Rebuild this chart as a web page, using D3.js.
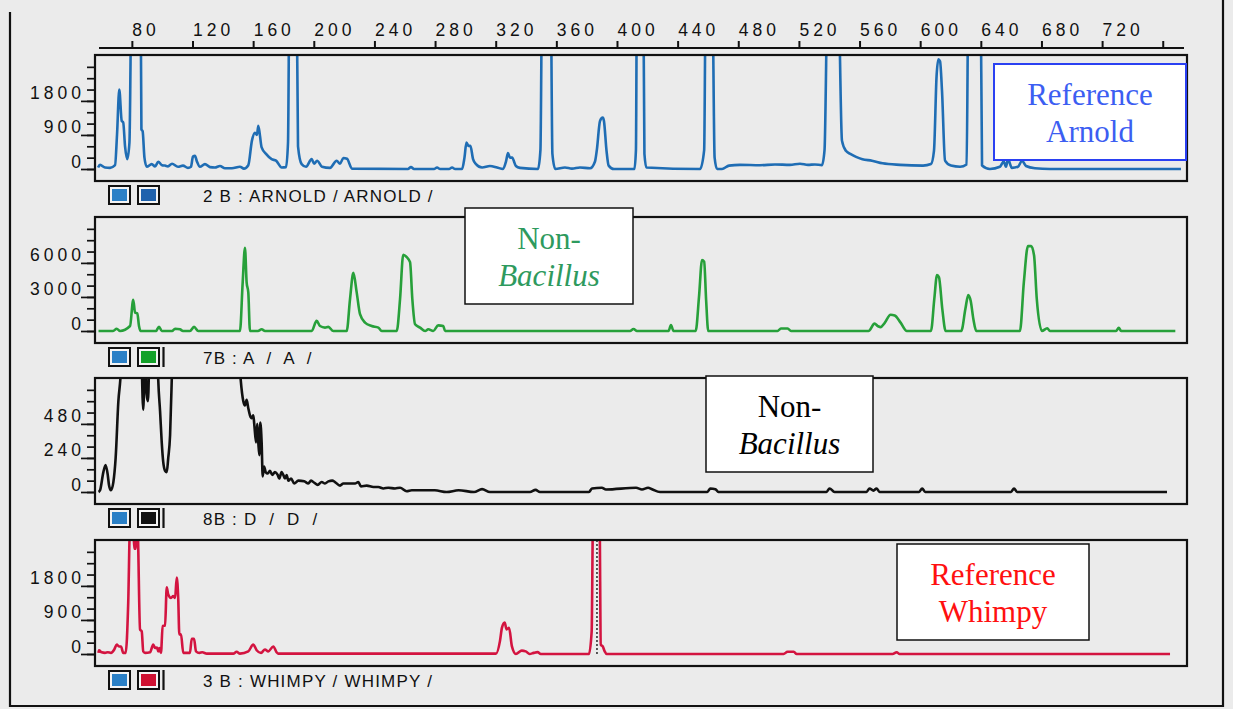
<!DOCTYPE html>
<html>
<head>
<meta charset="utf-8">
<script src="https://cdn.jsdelivr.net/npm/d3@7"></script>
<style>
  html, body { margin: 0; padding: 0; background: #ebebeb; }
  svg { display: block; }
  .mono { font-family: "Liberation Sans", Arial, sans-serif; }
  .serif { font-family: "Liberation Serif", "Times New Roman", serif; }
</style>
</head>
<body>
<div id="chart"></div>
<script>
const width = 1233;
const height = 709;

// fragment size (bp) ticks along the top
const sizeTicks = d3.range(80, 761, 40);

// traces: [fragment size bp, signal]
const arnold = [
  [57.7, 40], [59, 110], [62.3, 40], [65.6, 30], [68.9, 100], [70.2, 900], [71.7, 2100],
  [73.3, 1270], [74.3, 1230], [75.5, 600], [77, 260], [78.4, 700], [79.9, 5000], [85.7, 5000],
  [86.3, 1050], [87.1, 1000], [88.3, 300], [89.8, 60], [93.1, 130], [95.3, 70], [97.4, 190],
  [99.9, 100], [101.9, 90], [103.8, 70], [106.5, 140], [110.4, 60], [113.7, 90], [117, 30],
  [119, 60], [120.3, 330], [121.6, 350], [122.9, 200], [124.9, 60], [128.2, 130], [131.5, 50],
  [134.8, 40], [138.1, 80], [141.4, 20], [146, 20], [151.3, 60], [153.9, 10], [156.8, 100],
  [159.2, 750], [161.2, 960], [162.5, 900], [163.4, 1140], [165.6, 570], [168.5, 400],
  [172.2, 260], [175.1, 220], [178.8, 40], [181.7, 50], [183, 700], [184, 5000], [188.6, 5000],
  [189.6, 600], [192, 130], [194.9, 60], [198.6, 260], [200.2, 140], [202.2, 220], [205.4, 60],
  [210.7, 30], [215.1, 220], [217.3, 140], [219.5, 290], [221.9, 270], [225.2, 10],
  [262.1, 0], [264.1, 50], [266.1, 0], [279.3, 0], [281.3, 40], [283.3, 0], [289.2, 0],
  [291.2, 40], [293.2, 0], [297.8, 0], [299.4, 300], [300.7, 700], [302.1, 610], [303.3, 610],
  [305, 270], [307, 130], [311, 40], [316.2, 80], [320.9, 40], [324.8, 0], [326.8, 200],
  [328.1, 420], [329.4, 300], [330.8, 300], [333.3, 80], [336, 30], [347.9, 0], [349.5, 500],
  [350.7, 5000], [356.2, 5000], [357.4, 400], [359.3, 0], [365.7, 40], [370.3, 10], [375.6, 40],
  [382.2, 20], [385.5, 200], [386.7, 500], [388.8, 1270], [390.6, 1360], [391.4, 1270],
  [393.1, 480], [394.5, 90], [398, 0], [411.5, 0], [412.5, 500], [413.2, 5000], [417.3, 5000],
  [418.1, 400], [419.4, 40], [454.8, 0], [457.5, 500], [458.6, 5000], [462.8, 5000],
  [464.4, 300], [466, 0], [469.3, 0], [473.9, 90], [481.1, 110], [494.3, 100], [504.2, 120],
  [514.1, 110], [520.7, 140], [526, 110], [530.6, 120], [535.2, 100], [536.9, 500],
  [539.1, 5000], [545.8, 5000], [548.4, 750], [551, 480], [553.9, 400], [557.7, 320],
  [561.9, 260], [568.2, 220], [575.2, 150], [586.7, 110], [601.9, 90], [607.1, 130],
  [609.1, 480], [610.8, 2450], [612, 2900], [613.1, 2850], [614.4, 2060], [616.4, 220],
  [620.3, 90], [626.3, 60], [630.6, 120], [631.9, 5000], [639.8, 5000], [640.8, 90], [646, 0],
  [652.6, 60], [655.1, 200], [656.6, 60], [657.9, 260], [660.5, 30], [664.5, 60], [667.2, 220],
  [669.8, 80], [675.7, 20], [685.6, 0], [772, 0]
];

const sampleA = [
  [58, 0], [67.6, 0], [70, 200], [72.2, 0], [78.8, 440], [80.9, 2750], [82.1, 1620],
  [83.6, 1560], [84.7, 440], [85.8, 0], [95.9, 0], [97.9, 380], [99.7, 0], [106.5, 0],
  [108.5, 200], [111.7, 150], [113.7, 0], [118.3, 0], [121, 360], [123.8, 0], [151.3, 0],
  [153.1, 4290], [154.6, 7330], [155.7, 4290], [156.8, 3400], [157.9, 0], [163.2, 0],
  [165.6, 150], [167.8, 0], [198.6, 0], [201.9, 890], [204.1, 440], [207.4, 300], [209.6, 360],
  [212.9, 0], [221.7, 0], [223.9, 2810], [226.1, 5120], [228.3, 3400], [230.5, 1480],
  [233.8, 740], [238.2, 440], [242.6, 300], [244.8, 0], [254.7, 0], [256.9, 2810], [259, 6720],
  [261.3, 6510], [263.5, 6060], [265, 2810], [266.8, 590], [270.1, 300], [273.4, 0],
  [275.5, 150], [278.8, 0], [282.1, 500], [285.4, 440], [286.6, 0], [408.6, 0], [410.9, 170],
  [413.2, 0], [434, 0], [435.6, 530], [437.3, 0], [451.9, 0], [454.1, 3000], [456.1, 6260],
  [457.5, 6110], [458.8, 2720], [460.2, 0], [505.9, 0], [508.1, 220], [512.6, 220], [514.8, 0],
  [565.9, 0], [569.9, 650], [572.2, 420], [573.9, 340], [576.5, 700], [580.5, 1430],
  [583.2, 1370], [587.2, 720], [591.2, 0], [607.1, 0], [609.3, 2800], [611.1, 4930],
  [612.4, 4730], [614.6, 1920], [616.8, 0], [627.1, 0], [629.8, 1930], [631.7, 3170],
  [633.3, 2660], [635.1, 1040], [637, 0], [665.8, 0], [668.4, 4320], [671.1, 7480],
  [673.2, 7480], [675.1, 6680], [676.9, 2840], [680.3, 0], [683.8, 240], [685.6, 0],
  [729.2, 0], [731, 280], [732.5, 0], [768.3, 0]
];

const sampleD = [
  [58, 0], [59, 12], [61.2, 140], [62.7, 190], [64.1, 120], [64.9, 50], [66.2, 12], [67.8, 70],
  [69.3, 240], [71.1, 640], [72.6, 830], [74.2, 1300], [84.5, 1300], [86, 1100], [87.5, 580],
  [88.7, 1000], [89.7, 690], [90.6, 640], [91.6, 1000], [92.6, 1300], [96.2, 1300],
  [97.4, 790], [98.6, 570], [99.7, 350], [100.7, 210], [101.9, 150], [103, 140], [104, 240],
  [105.2, 400], [106.3, 790], [107.5, 1300], [149, 1300], [151.8, 790], [153.5, 640],
  [154.6, 610], [155.7, 650], [156.8, 590], [157.9, 540], [159, 520], [160.1, 540], [160.8, 470],
  [161.9, 350], [162.7, 480], [163.4, 350], [164.1, 260], [164.7, 490], [165.6, 350],
  [166.3, 110], [167.2, 180], [168.3, 140], [169.6, 130], [171.1, 150], [172.6, 120],
  [174.4, 140], [176.2, 120], [177.2, 95], [178.8, 140], [179.9, 120], [181, 95], [182.1, 120],
  [183.2, 80], [185, 95], [187.1, 60], [189.8, 80], [193.7, 75], [196.4, 60], [198.2, 80],
  [200.3, 65], [202.6, 50], [205.2, 70], [207.4, 60], [209.6, 75], [212.2, 80], [214, 70],
  [217.3, 45], [219.5, 60], [223.9, 60], [227.2, 60], [229.4, 70], [231.1, 40], [234.9, 45],
  [239.3, 35], [242.6, 35], [245.9, 25], [249.2, 30], [253.6, 25], [256.9, 30], [261.3, 5],
  [264.6, 12], [272.3, 12], [279.8, 12], [287.6, 0], [295.5, 12], [305.7, 0], [311, 20],
  [316.2, 0], [342.6, 0], [346.3, 15], [349.2, 0], [381.5, 0], [383.5, 25], [390, 30],
  [392.7, 18], [412.6, 30], [416.5, 18], [420.5, 30], [423.1, 20], [428.4, 0], [459.6, 0],
  [461.6, 25], [464.9, 20], [466.9, 0], [538.2, 0], [540.2, 25], [543.5, 0], [564.6, 0],
  [566.6, 25], [569.2, 10], [571.2, 25], [573.2, 0], [599.3, 0], [601.3, 25], [603.3, 0],
  [659.9, 0], [661.9, 25], [663.9, 0], [762.8, 0]
];

const whimpy = [
  [58, 30], [58.3, 100], [60.1, 45], [62.3, 30], [64.1, 45], [66.2, 30], [68.4, 120], [70, 250],
  [71.5, 200], [72.8, 200], [74.3, 30], [75.9, 30], [77.6, 1360], [78.8, 3400], [80.9, 3400],
  [81.6, 2780], [82.6, 2780], [83.2, 3400], [83.7, 3400], [85.4, 650], [86.5, 600], [87.5, 70],
  [88.7, 30], [92, 45], [94.1, 250], [95.3, 160], [96.6, 170], [97.4, 70], [98.1, 160],
  [99.2, 30], [100.3, 740], [101.9, 750], [103, 1760], [104, 1570], [105.8, 1480], [107.3, 1530],
  [108.5, 1480], [109.6, 2020], [110.6, 1440], [111.3, 520], [112.4, 520], [113.9, 30],
  [115.5, 30], [118.3, 30], [119.5, 400], [121, 400], [122.3, 70], [124.5, 30], [126.5, 45],
  [129.4, 10], [146.9, 10], [149.1, 60], [151.3, 10], [156.8, 70], [160.1, 250], [162.3, 100],
  [165.2, 30], [167.8, 120], [170, 70], [173.3, 200], [175.5, 45], [176.6, 10], [320.2, 10],
  [322.8, 340], [324.1, 690], [325.9, 830], [327.2, 650], [328.8, 690], [330.7, 200],
  [333.3, 0], [337.2, 90], [339.8, 70], [342.4, 0], [345, 30], [347.6, 50], [349.7, 0],
  [381.5, 0], [383.3, 600], [384.2, 3600], [388.5, 3600], [389.3, 250], [390.6, 200],
  [391.9, 70], [393.2, 0], [509.9, 0], [512.5, 60], [516.6, 60], [518.5, 0], [581.8, 0],
  [584.5, 45], [586.4, 0], [764.8, 0]
];

// dotted size marker in the Whimpy lane
const whimpyMarkers = [386.8];

const laneLabels = ["2 B : ARNOLD / ARNOLD /", "7B : A  /  A  /", "8B : D  /  D  /", "3 B : WHIMPY / WHIMPY /"];
const tickSteps = [300, 1000, 80, 300];

const panels = [
  { data: arnold, step: tickSteps[0], top: 55, color: "#1f6db4", swatch: "#1f62ad", bar: false,
    label: laneLabels[0],
    legend: { x: 994, y: 64, w: 192, h: 96, stroke: "#2a40f2", sw: 2, color: "#3c5ef2", lines: [["Reference", false], ["Arnold", false]] } },
  { data: sampleA, step: tickSteps[1], top: 217, color: "#27a03a", swatch: "#14a12a", bar: true,
    label: laneLabels[1],
    legend: { x: 465, y: 208, w: 168, h: 96, stroke: "#111", sw: 1.5, color: "#2e9a5e", lines: [["Non-", false], ["Bacillus", true]] } },
  { data: sampleD, step: tickSteps[2], top: 378, color: "#111", swatch: "#111", bar: true,
    label: laneLabels[2], markers: [],
    legend: { x: 706, y: 376, w: 167, h: 96, stroke: "#111", sw: 1.5, color: "#000", lines: [["Non-", false], ["Bacillus", true]] } },
  { data: whimpy, step: tickSteps[3], top: 540, color: "#d31440", swatch: "#cf1232", bar: true,
    label: laneLabels[3], markers: whimpyMarkers,
    legend: { x: 897, y: 544, w: 192, h: 96, stroke: "#111", sw: 1.5, color: "#ff1010", lines: [["Reference", false], ["Whimpy", false]] } }
];

const boxX0 = 95, boxX1 = 1187, boxH = 126, zeroOffset = 114, stepPx = 11.35;

const svg = d3.select("#chart")
  .append("svg")
  .attr("width", width)
  .attr("height", height);

svg.append("rect").attr("width", width).attr("height", height).attr("fill", "#ebebeb");

const x = d3.scaleLinear().domain([57, 776]).range([97, 1187]);

// top size axis
const topAxis = svg.append("g")
  .attr("transform", "translate(0,48)")
  .call(d3.axisTop(x).tickValues(sizeTicks).tickSize(7).tickFormat(d => d < 760 ? d : ""));
topAxis.select(".domain").remove();
topAxis.selectAll("line").attr("stroke", "#111").attr("stroke-width", 2);
topAxis.selectAll("text")
  .attr("class", "mono")
  .attr("text-anchor", "start")
  .attr("x", 0)
  .attr("y", -12)
  .attr("dy", 0)
  .attr("fill", "#111")
  .style("font-size", "17.5px")
  .style("letter-spacing", "4px");
svg.append("line")
  .attr("x1", 99).attr("x2", 1184).attr("y1", 48).attr("y2", 48)
  .attr("stroke", "#111").attr("stroke-width", 2.2);

const line = d3.line().curve(d3.curveMonotoneX);

panels.forEach((p, i) => {
  const top = p.top;
  const y = d3.scaleLinear()
    .domain([-(boxH - zeroOffset) / stepPx * p.step, zeroOffset / stepPx * p.step])
    .range([top + boxH, top]);

  const g = svg.append("g");

  // minor ticks
  const minor = g.append("g")
    .attr("transform", `translate(${boxX0},0)`)
    .call(d3.axisLeft(y).tickValues(d3.range(0, 10).map(k => k * p.step)).tickSize(8).tickFormat(""));
  minor.select(".domain").remove();
  minor.selectAll("line").attr("stroke", "#111").attr("stroke-width", 1.7);

  // major ticks with labels sitting on them
  const major = g.append("g")
    .attr("transform", `translate(${boxX0},0)`)
    .call(d3.axisLeft(y).tickValues([0, 3 * p.step, 6 * p.step]).tickSize(14).tickFormat(d3.format("d")));
  major.select(".domain").remove();
  major.selectAll("line").attr("stroke", "#111").attr("stroke-width", 1.7);
  major.selectAll("text")
    .attr("class", "mono")
    .attr("x", -14 + 4)
    .attr("dy", "-2px")
    .attr("fill", "#111")
    .style("font-size", "17.5px")
    .style("letter-spacing", "4px");

  const clipId = "clip" + i;
  svg.append("clipPath").attr("id", clipId)
    .append("rect").attr("x", boxX0 + 1).attr("y", top + 1)
    .attr("width", boxX1 - boxX0 - 2).attr("height", boxH - 2);

  const plot = g.append("g").attr("clip-path", `url(#${clipId})`);

  (p.markers || []).forEach(m => {
    plot.append("line")
      .attr("x1", x(m)).attr("x2", x(m))
      .attr("y1", top).attr("y2", y(0))
      .attr("stroke", "#333").attr("stroke-width", 1.6)
      .attr("stroke-dasharray", "2,2");
  });

  plot.append("path")
    .datum(p.data)
    .attr("d", line.x(d => x(d[0])).y(d => y(d[1])))
    .attr("fill", "none")
    .attr("stroke", p.color)
    .attr("stroke-width", 2.6)
    .attr("stroke-linejoin", "round");

  g.append("rect")
    .attr("x", boxX0).attr("y", top)
    .attr("width", boxX1 - boxX0).attr("height", boxH)
    .attr("fill", "none").attr("stroke", "#111").attr("stroke-width", 2.2);

  // lane swatches and name
  const sy = top + boxH + 5;
  [[109, "#2b80c6"], [138, p.swatch]].forEach(([sx, c]) => {
    g.append("rect").attr("x", sx).attr("y", sy).attr("width", 21).attr("height", 18)
      .attr("fill", "#f4f4f4").attr("stroke", "#111").attr("stroke-width", 2);
    g.append("rect").attr("x", sx + 3).attr("y", sy + 3).attr("width", 15).attr("height", 12)
      .attr("fill", c);
  });
  if (p.bar) {
    g.append("line").attr("x1", 163.5).attr("x2", 163.5).attr("y1", sy - 1).attr("y2", sy + 19)
      .attr("stroke", "#111").attr("stroke-width", 2.2);
  }
  g.append("text")
    .attr("class", "mono")
    .attr("x", 203).attr("y", sy + 16)
    .attr("fill", "#111")
    .attr("xml:space", "preserve")
    .style("white-space", "pre")
    .style("font-size", "17px")
    .style("letter-spacing", "1.2px")
    .text(p.label);

  // annotation box
  const L = p.legend;
  g.append("rect")
    .attr("x", L.x).attr("y", L.y).attr("width", L.w).attr("height", L.h)
    .attr("fill", "#fff").attr("stroke", L.stroke).attr("stroke-width", L.sw);
  L.lines.forEach(([t, it], k) => {
    g.append("text")
      .attr("class", "serif")
      .attr("x", L.x + L.w / 2)
      .attr("y", L.y + 41 + k * 37)
      .attr("text-anchor", "middle")
      .attr("fill", L.color)
      .style("font-size", "31px")
      .style("font-style", it ? "italic" : "normal")
      .text(t);
  });
});

// outer frame
svg.append("path")
  .attr("d", "M10,12V706H1223V0")
  .attr("fill", "none")
  .attr("stroke", "#111")
  .attr("stroke-width", 2.2);
</script>
</body>
</html>
